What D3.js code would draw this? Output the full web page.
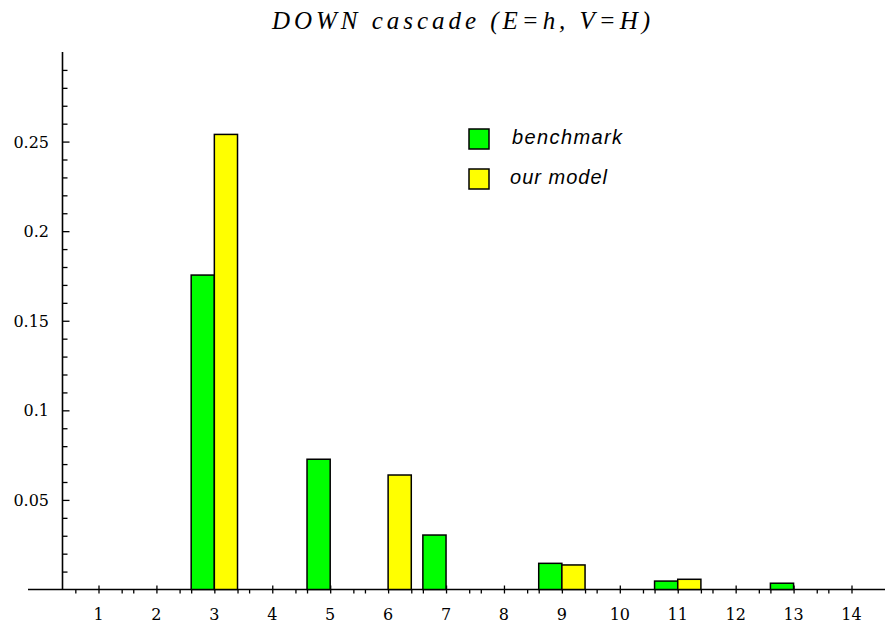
<!DOCTYPE html>
<html>
<head>
<meta charset="utf-8">
<script src="https://cdn.jsdelivr.net/npm/d3@7"></script>
<style>
  body { margin: 0; background: #fff; }
  svg { display: block; }
</style>
</head>
<body>
<div id="svgDiv"></div>
<script>
// chart data
var categories = [1, 2, 3, 4, 5, 6, 7, 8, 9, 10, 11, 12, 13, 14];
var benchmark = [0, 0, 0.1755, 0, 0.0727, 0, 0.0304, 0, 0.0146, 0, 0.0047, 0, 0.0035, 0];
var ourModel  = [0, 0, 0.254, 0, 0, 0.0639, 0, 0, 0.0137, 0, 0.0057, 0, 0, 0];
var yMajorTicks = [0.05, 0.1, 0.15, 0.2, 0.25];
var yMajorLabels = ["0.05", "0.1", "0.15", "0.2", "0.25"];
var seriesNames = ["benchmark", "our model"];
var seriesColors = ["#00ff00", "#ffff00"];
var title = "DOWN cascade (E=h, V=H)";

var svgWidth = 885, svgHeight = 630;
var svg = d3.select("#svgDiv").append("svg")
    .attr("width", svgWidth)
    .attr("height", svgHeight);

var xScale = d3.scaleLinear().domain([1, 14]).range([98.5, 851.5]);
var yScale = d3.scaleLinear().domain([0, 0.3]).range([589.5, 52]);

// minor ticks: y every 0.01, x at the bar edges
var yMinorTicks = d3.range(1, 30).map(d => d / 100)
    .filter(d => yMajorTicks.indexOf(d) < 0);
var xMinorTicks = [];
categories.forEach(function(c) {
    xMinorTicks.push(c - 0.4);
    if (c < 14) xMinorTicks.push(c + 0.4);
});

var axisX0 = yScale(0);
var axisY0 = 62.5;
var labelFont = "'DejaVu Serif', 'Liberation Serif', serif";

// title
svg.append("text")
    .attr("x", 461).attr("y", 29)
    .attr("text-anchor", "middle")
    .attr("textLength", 378)
    .attr("lengthAdjust", "spacing")
    .style("font-family", "'Liberation Serif', 'DejaVu Serif', serif")
    .style("font-style", "italic")
    .style("font-size", "25px")
    .text(title);

// y ticks
var yMajorAxis = d3.axisRight(yScale).tickValues(yMajorTicks).tickSize(7).tickFormat("");
var yMinorAxis = d3.axisRight(yScale).tickValues(yMinorTicks).tickSize(5).tickFormat("");
[yMajorAxis, yMinorAxis].forEach(function(ax) {
    var g = svg.append("g").attr("transform", "translate(" + axisY0 + ",0)").call(ax);
    g.select(".domain").remove();
    g.selectAll(".tick line").attr("stroke", "#000").attr("stroke-width", 1.3);
});

svg.selectAll(".ylabel")
    .data(yMajorTicks)
    .enter().append("text")
    .attr("class", "ylabel")
    .attr("x", 49)
    .attr("y", d => yScale(d) + 6)
    .attr("text-anchor", "end")
    .style("font-family", labelFont)
    .style("font-size", "16px")
    .text((d, i) => yMajorLabels[i]);

// x ticks
var xMajorAxis = d3.axisBottom(xScale).tickValues(categories).tickSize(4).tickFormat("");
var xMinorAxis = d3.axisBottom(xScale).tickValues(xMinorTicks).tickSize(4).tickFormat("");
var gxMajor = svg.append("g").attr("transform", "translate(0," + axisX0 + ")").call(xMajorAxis);
gxMajor.select(".domain").remove();
gxMajor.selectAll(".tick line").attr("y1", -4).attr("y2", 4).attr("stroke", "#000").attr("stroke-width", 1.3);
var gxMinor = svg.append("g").attr("transform", "translate(0," + axisX0 + ")").call(xMinorAxis);
gxMinor.select(".domain").remove();
gxMinor.selectAll(".tick line").attr("stroke", "#000").attr("stroke-width", 1.3);

svg.selectAll(".xlabel")
    .data(categories)
    .enter().append("text")
    .attr("class", "xlabel")
    .attr("x", d => xScale(d))
    .attr("y", 620)
    .attr("text-anchor", "middle")
    .style("font-family", labelFont)
    .style("font-size", "16px")
    .text(d => d);

// axis lines
svg.append("line")
    .attr("x1", 28).attr("x2", svgWidth)
    .attr("y1", axisX0).attr("y2", axisX0)
    .attr("stroke", "#000").attr("stroke-width", 1.6);
svg.append("line")
    .attr("x1", axisY0).attr("x2", axisY0)
    .attr("y1", yScale(0.3)).attr("y2", axisX0)
    .attr("stroke", "#000").attr("stroke-width", 1.6);

// bars: benchmark left of the tick, our model right of it
var barData = [];
categories.forEach(function(c, i) {
    if (benchmark[i] > 0) barData.push({ c: c, v: benchmark[i], s: 0 });
    if (ourModel[i] > 0) barData.push({ c: c, v: ourModel[i], s: 1 });
});

svg.selectAll("rect.bar")
    .data(barData)
    .enter().append("rect")
    .attr("class", "bar")
    .attr("x", d => d.s == 0 ? xScale(d.c - 0.4) : xScale(d.c))
    .attr("width", xScale(1.4) - xScale(1))
    .attr("y", d => yScale(d.v))
    .attr("height", d => yScale(0) - yScale(d.v))
    .attr("fill", d => seriesColors[d.s])
    .attr("stroke", "#000")
    .attr("stroke-width", 1.5);

// legend
var legend = svg.selectAll(".legend")
    .data(seriesNames)
    .enter().append("g")
    .attr("class", "legend")
    .attr("transform", (d, i) => "translate(469," + (129 + i * 40) + ")");
legend.append("rect")
    .attr("width", 20).attr("height", 20)
    .attr("fill", (d, i) => seriesColors[i])
    .attr("stroke", "#000").attr("stroke-width", 1.5);
legend.append("text")
    .attr("x", (d, i) => i == 0 ? 43 : 41)
    .attr("y", 15)
    .attr("textLength", (d, i) => i == 0 ? 110 : 97)
    .attr("lengthAdjust", "spacing")
    .style("font-family", "'Liberation Sans', Arial, sans-serif")
    .style("font-style", "italic")
    .style("font-size", "20px")
    .text(d => d);
</script>
</body>
</html>
